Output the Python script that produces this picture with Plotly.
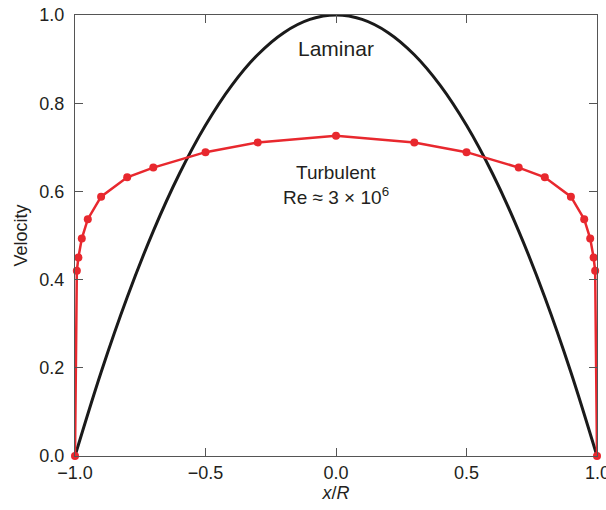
import plotly.graph_objects as go

# Laminar profile
lam_x = [-1.0, -0.9, -0.8, -0.7, -0.6, -0.5, -0.4, -0.3, -0.2, -0.1, 0.0,
         0.1, 0.2, 0.3, 0.4, 0.5, 0.6, 0.7, 0.8, 0.9, 1.0]
lam_y = [0.0, 0.19, 0.36, 0.51, 0.64, 0.75, 0.84, 0.91, 0.96, 0.99, 1.0,
         0.99, 0.96, 0.91, 0.84, 0.75, 0.64, 0.51, 0.36, 0.19, 0.0]

# Turbulent profile
turb_x = [-1.0, -0.993, -0.987, -0.974, -0.951, -0.9, -0.8, -0.7, -0.5, -0.3, 0.0,
          0.3, 0.5, 0.7, 0.8, 0.9, 0.951, 0.974, 0.987, 0.993, 1.0]
turb_y = [0.0, 0.42, 0.45, 0.493, 0.537, 0.588, 0.632, 0.654, 0.689, 0.711, 0.726,
          0.711, 0.689, 0.654, 0.632, 0.588, 0.537, 0.493, 0.45, 0.42, 0.0]

x_ticks = [-1.0, -0.5, 0.0, 0.5]
x_last_tick = 1.0
x_last_label = "1.0"
y_ticks = [0.0, 0.2, 0.4, 0.6, 0.8, 1.0]

fig = go.Figure()
fig.add_trace(go.Scatter(x=lam_x, y=lam_y, mode="lines", line_shape="spline",
                         line=dict(color="#1a1a1a", width=3), showlegend=False,
                         cliponaxis=False))
fig.add_trace(go.Scatter(x=turb_x, y=turb_y, mode="lines+markers",
                         line=dict(color="#e8282e", width=2.5),
                         marker=dict(color="#e8282e", size=8), showlegend=False,
                         cliponaxis=False))

font = "Liberation Sans, Arial, sans-serif"
txt = "#231f20"
fig.add_annotation(x=0, y=0.925, text="Laminar", showarrow=False,
                   font=dict(family=font, size=21, color=txt))
fig.add_annotation(x=0, y=0.644, text="Turbulent", showarrow=False,
                   font=dict(family=font, size=19, color=txt))
fig.add_annotation(x=0, y=0.59, text="Re ≈ 3 × 10<sup>6</sup>", showarrow=False,
                   font=dict(family=font, size=19, color=txt))
# last x tick label (drawn as annotation so it is not dropped at the page edge)
fig.add_annotation(x=x_last_tick, xref="x", y=0, yref="paper", yanchor="top",
                   yshift=-5, text=x_last_label, showarrow=False,
                   font=dict(family=font, size=18, color=txt))

axis_common = dict(showgrid=False, zeroline=False, showline=True, linecolor="#555555",
                   linewidth=1.2, mirror="allticks", ticks="inside", ticklen=8,
                   tickcolor="#555555", tickformat=".1f", automargin=False,
                   tickfont=dict(family=font, size=18, color=txt))

fig.update_xaxes(range=[-1.0, 1.0], tickvals=x_ticks, **axis_common,
                 title=dict(text="<i>x</i>/<i>R</i>", font=dict(family=font, size=18, color=txt),
                            standoff=4))
fig.update_yaxes(range=[0.0, 1.0], tickvals=y_ticks, **axis_common,
                 ticklabelstandoff=6,
                 title=dict(text="Velocity", font=dict(family=font, size=18, color=txt),
                            standoff=6))

fig.update_layout(width=606, height=510, margin=dict(l=75, r=9, t=15, b=54),
                  plot_bgcolor="white", paper_bgcolor="white")

fig.write_html("out.html", config={"displayModeBar": False},
               post_script="document.body.style.margin='0';document.body.style.overflow='hidden';")
